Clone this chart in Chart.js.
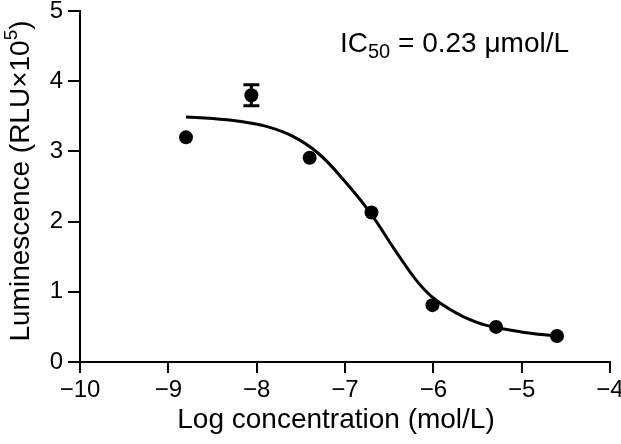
<!DOCTYPE html>
<html>
<head>
<meta charset="utf-8">
<script src="https://cdn.jsdelivr.net/npm/chart.js@4"></script>
<style>
  html, body { margin: 0; padding: 0; background: #fff; }
  #wrap { width: 621px; height: 444px; }
</style>
</head>
<body>
<div id="wrap"><canvas id="myChart"></canvas></div>
<script>
// measured points (log concentration vs luminescence, x10^5 RLU)
const logConc = [-8.8, -8.06, -7.4, -6.7, -6.01, -5.29, -4.6];
const lumValues = [3.2, 3.8, 2.91, 2.13, 0.81, 0.5, 0.37];
const lumErrors = [0, 0.15, 0, 0, 0, 0, 0];

// fitted curve
const curveX = [-8.8, -8.5, -8.2, -7.9, -7.6, -7.3, -7.0, -6.7, -6.4, -6.1, -5.8, -5.5, -5.2, -4.9, -4.6];
const curveY = [3.49, 3.47, 3.43, 3.36, 3.22, 2.97, 2.57, 2.1, 1.53, 1.03, 0.74, 0.56, 0.47, 0.41, 0.37];

const xTicks = [-10, -9, -8, -7, -6, -5, -4];
const yTicks = [0, 1, 2, 3, 4, 5];

const FONT = "'Liberation Sans', Arial, sans-serif";
const ctx = document.getElementById('myChart').getContext('2d');

// error bars for the measured points
const errorBarPlugin = {
    id: 'errorBars',
    afterDatasetsDraw: (chart) => {
        const ctx = chart.ctx;
        const xs = chart.scales.x, ys = chart.scales.y;
        ctx.save();
        ctx.strokeStyle = '#000';
        ctx.lineWidth = 3;
        logConc.forEach((x, i) => {
            const e = lumErrors[i];
            if (!e) return;
            const px = xs.getPixelForValue(x);
            const top = ys.getPixelForValue(lumValues[i] + e);
            const bot = ys.getPixelForValue(lumValues[i] - e);
            ctx.beginPath();
            ctx.moveTo(px, top);
            ctx.lineTo(px, bot);
            ctx.moveTo(px - 8, top);
            ctx.lineTo(px + 8, top);
            ctx.moveTo(px - 8, bot);
            ctx.lineTo(px + 8, bot);
            ctx.stroke();
        });
        ctx.restore();
    }
};

// axis titles and IC50 label (need sub/superscripts)
const textPlugin = {
    id: 'labels',
    afterDraw: (chart) => {
        const ctx = chart.ctx;
        ctx.save();
        ctx.fillStyle = '#000';

        // IC50
        ctx.textBaseline = 'alphabetic';
        let x = 340, y = 52;
        ctx.font = '28px ' + FONT;
        ctx.fillText('IC', x, y);
        x += ctx.measureText('IC').width;
        ctx.font = '20px ' + FONT;
        ctx.fillText('50', x, y + 6);
        x += ctx.measureText('50').width;
        ctx.font = '28px ' + FONT;
        ctx.fillText(' = 0.23 \u03bcmol/L', x, y);

        // x title
        ctx.font = '28px ' + FONT;
        ctx.textAlign = 'center';
        ctx.textBaseline = 'middle';
        ctx.fillText('Log concentration (mol/L)', 336, 420);

        // y title, rotated, with superscript
        ctx.translate(21, 181);
        ctx.rotate(-Math.PI / 2);
        ctx.textAlign = 'left';
        const main = 'Luminescence (RLU\u00d710';
        ctx.font = '28px ' + FONT;
        const w1 = ctx.measureText(main).width;
        ctx.font = '19px ' + FONT;
        const w2 = ctx.measureText('5').width;
        ctx.font = '28px ' + FONT;
        const w3 = ctx.measureText(')').width;
        let sx = -(w1 + w2 + w3) / 2;
        ctx.fillText(main, sx, 0);
        sx += w1;
        ctx.font = '19px ' + FONT;
        ctx.fillText('5', sx, -9);
        sx += w2;
        ctx.font = '28px ' + FONT;
        ctx.fillText(')', sx, 0);
        ctx.restore();
    }
};

const fmtTick = (v) => (v < 0 ? '\u2212' + Math.abs(v) : String(v));

new Chart(ctx, {
    type: 'scatter',
    data: {
        datasets: [
            {
                label: 'Fit',
                data: curveX.map((x, i) => ({ x: x, y: curveY[i] })),
                showLine: true,
                borderColor: '#000',
                borderWidth: 3,
                pointRadius: 0,
                tension: 0.4,
                fill: false
            },
            {
                label: 'Luminescence',
                data: logConc.map((x, i) => ({ x: x, y: lumValues[i] })),
                backgroundColor: '#000',
                borderColor: '#000',
                pointRadius: 7,
                borderWidth: 0
            }
        ]
    },
    options: {
        responsive: true,
        maintainAspectRatio: false,
        animation: false,
        layout: { padding: { left: 0, right: 11, top: 11, bottom: 0 } },
        plugins: {
            legend: { display: false },
            tooltip: { enabled: false }
        },
        scales: {
            x: {
                type: 'linear',
                min: -10,
                max: -4,
                afterBuildTicks: (s) => { s.ticks = xTicks.map(v => ({ value: v })); },
                afterFit: (s) => { s.height = 82; s.paddingLeft = 0; s.paddingRight = 0; },
                ticks: {
                    color: '#000',
                    font: { family: FONT, size: 24 },
                    padding: 3,
                    maxRotation: 0,
                    callback: fmtTick
                },
                grid: {
                    drawOnChartArea: false,
                    color: '#000',
                    lineWidth: 2,
                    tickLength: 11
                },
                border: { color: '#000', width: 2 }
            },
            y: {
                min: 0,
                max: 5,
                afterBuildTicks: (s) => { s.ticks = yTicks.map(v => ({ value: v })); },
                afterFit: (s) => { s.width = 80; s.paddingTop = 0; s.paddingBottom = 0; },
                ticks: {
                    color: '#000',
                    font: { family: FONT, size: 24 },
                    padding: 5,
                    callback: fmtTick
                },
                grid: {
                    drawOnChartArea: false,
                    color: '#000',
                    lineWidth: 2,
                    tickLength: 12
                },
                border: { color: '#000', width: 2 }
            }
        }
    },
    plugins: [errorBarPlugin, textPlugin]
});
</script>
</body>
</html>
